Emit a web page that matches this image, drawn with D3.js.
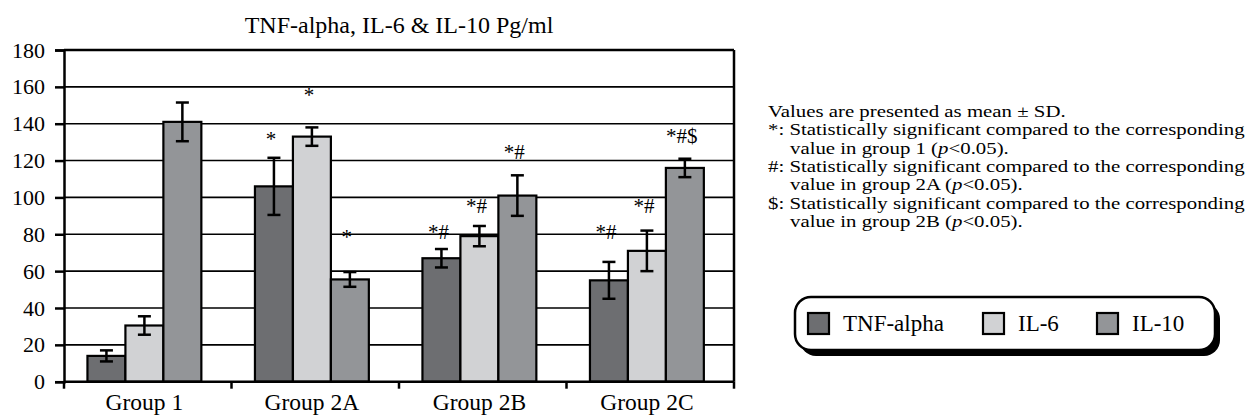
<!DOCTYPE html>
<html>
<head>
<meta charset="utf-8">
<script src="https://cdn.jsdelivr.net/npm/d3@7"></script>
<style>
  body { margin: 0; background: #fff; }
  svg { display: block; font-family: "Liberation Serif", "Times New Roman", serif; }
</style>
</head>
<body>
<svg id="chart"></svg>
<script>
// datos
const categories = ["Group 1", "Group 2A", "Group 2B", "Group 2C"];
const series = ["TNF-alpha", "IL-6", "IL-10"];
const tnfMean = [14, 106, 67, 55];
const tnfSD = [3, 15.5, 5, 10];
const il6Mean = [30.5, 133, 79, 71];
const il6SD = [5, 5, 5.5, 11];
const il10Mean = [141, 55.5, 101, 116];
const il10SD = [10.5, 4, 11, 5];
const tnfSig = ["", "*", "*#", "*#"];
const il6Sig = ["", "*", "*#", "*#"];
const il10Sig = ["", "*", "*#", "*#$"];
// altura (en pg/ml) donde aparece cada marca de significancia
const tnfSigAt = [null, 132, 82, 82];
const il6SigAt = [null, 156, 96, 96];
const il10SigAt = [null, 79, 125, 134];
const yTicks = [0, 20, 40, 60, 80, 100, 120, 140, 160, 180];
const notes = [
  ["Values are presented as mean \u00b1 SD.", false],
  ["*: Statistically significant compared to the corresponding", false],
  ["value in group 1 (|p|<0.05).", true],
  ["#: Statistically significant compared to the corresponding", false],
  ["value in group 2A (|p|<0.05).", true],
  ["$: Statistically significant compared to the corresponding", false],
  ["value in group 2B (|p|<0.05).", true]
];

const colors = ["#6d6e71", "#d1d2d4", "#939598"];

const width = 1248, height = 416;
const mLeft = 64, mRight = 734, mTop = 50, mBottom = 381.7;

const svg = d3.select("#chart")
    .attr("width", width)
    .attr("height", height);

const rows = [];
categories.forEach((c, i) => {
  rows.push({cat: c, s: 0, v: tnfMean[i], sd: tnfSD[i], sig: tnfSig[i], at: tnfSigAt[i]});
  rows.push({cat: c, s: 1, v: il6Mean[i], sd: il6SD[i], sig: il6Sig[i], at: il6SigAt[i]});
  rows.push({cat: c, s: 2, v: il10Mean[i], sd: il10SD[i], sig: il10Sig[i], at: il10SigAt[i]});
});

const x0 = d3.scaleBand().domain(categories).range([mLeft, mRight]);
const bw = x0.bandwidth();
const x1 = d3.scaleBand().domain(d3.range(series.length)).range([bw * 0.14, bw * 0.82]);
const y = d3.scaleLinear().domain([0, 180]).range([mBottom, mTop]);

// titulo
svg.append("text")
    .attr("x", (mLeft + mRight) / 2)
    .attr("y", 33)
    .attr("text-anchor", "middle")
    .attr("font-size", 24)
    .text("TNF-alpha, IL-6 & IL-10 Pg/ml");

// lineas de la grilla
svg.append("g")
    .selectAll("line")
    .data(yTicks.filter(t => t > 0))
    .enter().append("line")
    .attr("x1", mLeft).attr("x2", mRight)
    .attr("y1", d => y(d)).attr("y2", d => y(d))
    .attr("stroke", "#000")
    .attr("stroke-width", d => d === 180 ? 2.5 : 1.6);

svg.append("line")
    .attr("x1", mRight).attr("x2", mRight)
    .attr("y1", mTop).attr("y2", mBottom)
    .attr("stroke", "#000").attr("stroke-width", 2.5);

// eje y
const yAxis = svg.append("g")
    .attr("transform", `translate(${mLeft},0)`)
    .call(d3.axisLeft(y).tickValues(yTicks).tickSize(9).tickPadding(10).tickFormat(d3.format("d")));
yAxis.select(".domain").attr("stroke-width", 2.5);
yAxis.selectAll(".tick line").attr("stroke-width", 2.5);
yAxis.selectAll("text")
    .attr("font-family", "Liberation Serif, Times New Roman, serif")
    .attr("font-size", 22)
    .attr("fill", "#000");

// barras
svg.append("g")
    .selectAll("rect")
    .data(rows)
    .enter().append("rect")
    .attr("x", d => x0(d.cat) + x1(d.s))
    .attr("y", d => y(d.v))
    .attr("width", x1.bandwidth())
    .attr("height", d => y(0) - y(d.v))
    .attr("fill", d => colors[d.s])
    .attr("stroke", "#000")
    .attr("stroke-width", 2.2);

// barras de error
const err = svg.append("g")
    .attr("stroke", "#000")
    .attr("stroke-width", 2.5)
    .selectAll("g")
    .data(rows)
    .enter().append("g")
    .attr("transform", d => `translate(${x0(d.cat) + x1(d.s) + x1.bandwidth() / 2},0)`);
err.append("line")
    .attr("y1", d => y(d.v + d.sd)).attr("y2", d => y(d.v - d.sd));
err.append("line")
    .attr("x1", -6.5).attr("x2", 6.5)
    .attr("y1", d => y(d.v + d.sd)).attr("y2", d => y(d.v + d.sd));
err.append("line")
    .attr("x1", -6.5).attr("x2", 6.5)
    .attr("y1", d => y(d.v - d.sd)).attr("y2", d => y(d.v - d.sd));

// marcas de significancia
svg.append("g")
    .selectAll("text")
    .data(rows.filter(d => d.sig))
    .enter().append("text")
    .attr("x", d => x0(d.cat) + x1(d.s) + x1.bandwidth() / 2 - 3)
    .attr("y", d => y(d.at) + 8)
    .attr("text-anchor", "middle")
    .attr("font-size", 21)
    .text(d => d.sig);

// eje x
svg.append("line")
    .attr("x1", mLeft).attr("x2", mRight)
    .attr("y1", y(0)).attr("y2", y(0))
    .attr("stroke", "#000").attr("stroke-width", 2.5);
svg.append("g")
    .selectAll("line")
    .data(categories.map(c => x0(c)).concat([mRight]))
    .enter().append("line")
    .attr("x1", d => d).attr("x2", d => d)
    .attr("y1", y(0)).attr("y2", y(0) + 7)
    .attr("stroke", "#000").attr("stroke-width", 2.5);
svg.append("g")
    .selectAll("text")
    .data(categories)
    .enter().append("text")
    .attr("x", d => x0(d) + (x1(0) + x1(2) + x1.bandwidth()) / 2)
    .attr("y", 410)
    .attr("text-anchor", "middle")
    .attr("font-size", 23.5)
    .text(d => d);

// notas (letra algo ensanchada, como en la figura)
const noteG = svg.append("g").attr("font-size", 16.5);
const noteTexts = notes.map((n, i) => {
  const t = noteG.append("text")
      .attr("data-x", n[1] ? 790 : 768)
      .attr("data-y", 117 + i * 18.3);
  n[0].split("|").forEach((part, j) => {
    t.append("tspan")
        .attr("font-style", j % 2 === 1 ? "italic" : null)
        .text(part);
  });
  return t;
});
// que la linea larga quepa dentro del lienzo
const stretch = Math.min(302 / noteTexts[0].node().getComputedTextLength(),
                         (width - 3 - 768) / noteTexts[1].node().getComputedTextLength());
noteTexts.forEach(t => {
  t.attr("transform", `translate(${t.attr("data-x")},${t.attr("data-y")}) scale(${stretch},1)`);
});

// leyenda
const lg = svg.append("g").attr("transform", "translate(795,297)");
lg.append("rect")
    .attr("x", 5).attr("y", 6)
    .attr("width", 420).attr("height", 53)
    .attr("rx", 16)
    .attr("fill", "#000");
lg.append("rect")
    .attr("width", 420).attr("height", 53)
    .attr("rx", 16)
    .attr("fill", "#fff")
    .attr("stroke", "#000")
    .attr("stroke-width", 2.5);
const legendX = [13, 188, 302];
const item = lg.selectAll(".item")
    .data(series)
    .enter().append("g")
    .attr("transform", (d, i) => `translate(${legendX[i]},16)`);
item.append("rect")
    .attr("width", 21).attr("height", 21)
    .attr("fill", (d, i) => colors[i])
    .attr("stroke", "#000")
    .attr("stroke-width", 2.2);
item.append("text")
    .attr("x", 35)
    .attr("y", 18)
    .attr("font-size", 23)
    .text(d => d);
</script>
</body>
</html>
